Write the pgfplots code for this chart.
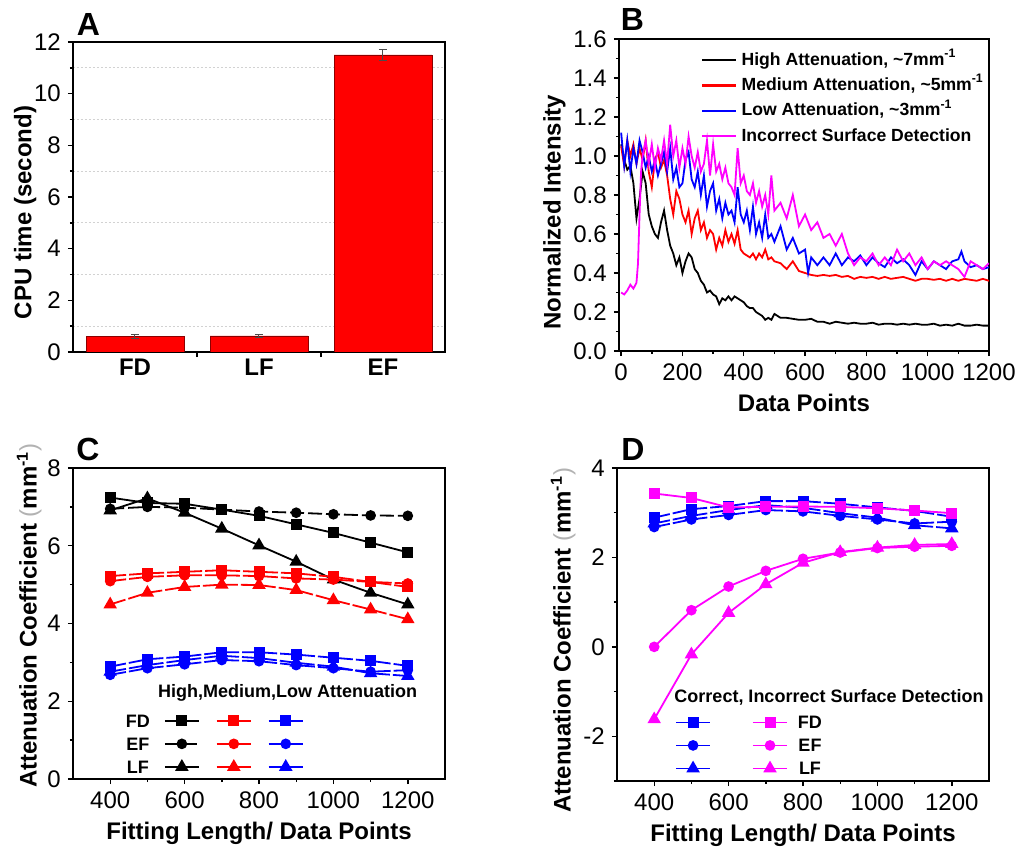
\documentclass[border=0pt]{standalone}
\usepackage{fontspec}
\setmainfont{Liberation Sans}
\usepackage{pgfplots}
\usepackage{pgfplotstable}
\pgfplotsset{compat=1.18}

% panel C: high (b), medium (r), low (l) attenuation
\pgfplotstableread{
x    bFD  bEF  bLF  rFD  rEF  rLF  lFD  lEF  lLF
400  7.24 6.95 6.91 5.22 5.09 4.49 2.89 2.68 2.76
500  7.10 7.00 7.22 5.29 5.20 4.79 3.08 2.85 2.93
600  7.08 6.98 6.85 5.33 5.24 4.94 3.15 2.95 3.06
700  6.93 6.93 6.44 5.37 5.24 5.00 3.26 3.06 3.17
800  6.77 6.88 6.01 5.33 5.22 4.99 3.26 3.03 3.11
900  6.55 6.85 5.59 5.29 5.16 4.86 3.20 2.93 2.99
1000 6.33 6.81 5.13 5.20 5.13 4.60 3.12 2.85 2.89
1100 6.08 6.78 4.79 5.07 5.07 4.36 3.04 2.76 2.72
1200 5.83 6.77 4.49 4.94 5.03 4.11 2.91 2.80 2.65
}\tabC

% panel D: incorrect surface detection
\pgfplotstableread{
x    mFD  mEF  mLF
400  3.43 0.00 -1.62
500  3.33 0.82 -0.17
600  3.12 1.35 0.76
700  3.13 1.70 1.40
800  3.14 1.97 1.88
900  3.13 2.11 2.12
1000 3.10 2.21 2.22
1100 3.05 2.24 2.28
1200 2.99 2.26 2.30
}\tabD

\definecolor{mred}{RGB}{255,0,0}
\definecolor{mblue}{RGB}{0,0,255}
\definecolor{mmag}{RGB}{255,0,255}

\pgfplotsset{
  panel/.style={
    scale only axis,
    axis line style={line width=0.8pt},
    tick align=outside,
    tick pos=left,
    major tick length=2.6pt,
    minor tick length=1.6pt,
    every tick/.style={line width=0.7pt, black},
    tick label style={font=\fontsize{12}{14}\selectfont},
    label style={font=\bfseries\fontsize{12}{14}\selectfont},
    /pgf/number format/assume math mode=true,
    /pgf/number format/set thousands separator={},
  },
  lw/.style={line width=0.9pt},
  sFD/.style={lw, mark=square*, mark size=2.3pt, mark options={solid}},
  sEF/.style={lw, mark=*, mark size=2.2pt, mark options={solid}},
  sLF/.style={lw, mark=triangle*, mark size=3pt, mark options={solid}},
  dsh/.style={dash pattern=on 8pt off 1.5pt},
  bdsh/.style={dash pattern=on 7pt off 2pt},
}

\begin{document}
\begin{tikzpicture}
\useasboundingbox (0,0) rectangle (509.5pt,426pt);

% ---------------- A ----------------
\begin{axis}[panel,
  at={(36.5pt,250pt)}, anchor=south west,
  width=186pt, height=155pt,
  xmin=-0.5, xmax=2.5, ymin=0, ymax=12,
  xtick={0.5,1.5}, xticklabels={},
  extra x ticks={0,1,2},
  extra x tick labels={FD,LF,EF},
  extra x tick style={major tick length=0pt,
    tick label style={font=\bfseries\fontsize{12}{14}\selectfont}},
  ytick={0,2,...,12}, minor ytick={1,3,...,11},
  yminorgrids, minor grid style={gray!35, dash pattern=on 1pt off 1pt},
  ylabel={CPU time (second)},
  ylabel style={at={(ticklabel cs:0.45)}},
  ylabel shift=-8pt,
]
\addplot[ybar, bar width=0.79, fill=mred, draw=red!55!black, line width=0.4pt,
  error bars/.cd, y dir=both, y explicit,
  error bar style={line width=0.5pt, gray!60!black},
  error mark options={rotate=90, mark size=2pt, gray!60!black}]
  coordinates {(0,0.60) +- (0,0.08) (1,0.62) +- (0,0.05) (2,11.50) +- (0,0.20)};
\end{axis}
\node[font=\bfseries\fontsize{16}{18}\selectfont] at (44.25pt,414pt) {A};

% ---------------- B ----------------
\begin{axis}[panel,
  at={(309.5pt,250.5pt)}, anchor=south west,
  width=185pt, height=156pt,
  xmin=-7, xmax=1200, ymin=0, ymax=1.6,
  xtick={0,200,...,1200}, minor x tick num=1,
  ytick={0,0.2,0.4,0.6,0.8,1.0,1.2,1.4,1.6}, minor y tick num=1,
  yticklabel style={/pgf/number format/.cd, fixed, fixed zerofill, precision=1},
  xlabel={Data Points},
  ylabel={Normalized Intensity},
  ylabel style={at={(ticklabel cs:0.445)}},
  ylabel shift=-3pt,
  legend cell align=left,
  legend image post style={line width=1.1pt},
  legend style={draw=none, fill=none, at={(0.205,0.975)}, anchor=north west,
    font=\bfseries\fontsize{8.8}{10}\selectfont, row sep=3.7pt,
    nodes={inner sep=0pt, text height=7pt, text depth=2pt},
    /tikz/every odd column/.append style={column sep=2pt}},
]
\addplot[black, lw] table {
0 1.06
10 0.98
20 0.93
30 0.95
40 0.86
50 0.68
60 0.78
70 0.92
80 0.86
90 0.70
100 0.64
110 0.60
120 0.58
130 0.66
140 0.72
150 0.62
160 0.54
170 0.50
180 0.44
190 0.48
200 0.40
210 0.46
220 0.50
230 0.48
240 0.42
250 0.40
260 0.36
270 0.34
280 0.30
290 0.31
300 0.29
310 0.28
320 0.24
330 0.27
340 0.26
350 0.28
360 0.26
370 0.28
380 0.27
390 0.26
400 0.25
410 0.23
420 0.22
430 0.22
440 0.20
450 0.19
460 0.18
470 0.16
480 0.17
490 0.16
500 0.19
520 0.17
540 0.17
560 0.165
580 0.16
600 0.16
620 0.165
640 0.15
660 0.15
680 0.14
700 0.15
720 0.145
740 0.14
760 0.145
780 0.14
800 0.14
820 0.145
840 0.135
860 0.14
880 0.14
900 0.135
920 0.14
940 0.135
960 0.14
980 0.135
1000 0.135
1020 0.14
1040 0.13
1060 0.135
1080 0.13
1100 0.14
1120 0.13
1140 0.13
1160 0.135
1180 0.13
1200 0.13
};
\addlegendentry{High Attenuation, \textasciitilde7mm\textsuperscript{-1}}
\addplot[mred, lw] table {
0 1.05
10 0.95
20 1.08
30 1.00
40 1.06
50 0.96
60 1.04
70 0.98
80 1.08
90 0.92
100 0.84
110 0.98
120 1.02
130 0.94
140 0.98
150 0.90
160 0.78
170 0.70
180 0.82
190 0.78
200 0.70
210 0.66
220 0.72
230 0.60
240 0.68
250 0.72
260 0.62
270 0.66
280 0.58
290 0.62
300 0.60
310 0.52
320 0.58
330 0.54
340 0.62
350 0.56
360 0.60
370 0.55
380 0.62
390 0.52
400 0.50
410 0.49
420 0.48
430 0.50
440 0.47
450 0.50
460 0.48
470 0.52
480 0.47
490 0.48
500 0.46
520 0.45
540 0.42
560 0.46
580 0.41
600 0.40
620 0.39
640 0.385
660 0.39
680 0.385
700 0.39
720 0.38
740 0.385
760 0.37
780 0.38
800 0.375
820 0.38
840 0.37
860 0.38
880 0.37
900 0.375
920 0.38
940 0.37
960 0.36
980 0.37
1000 0.37
1020 0.365
1040 0.37
1060 0.36
1080 0.37
1100 0.36
1120 0.37
1140 0.365
1160 0.36
1180 0.37
1200 0.36
};
\addlegendentry{Medium Attenuation, \textasciitilde5mm\textsuperscript{-1}}
\addplot[mblue, lw] table {
0 1.12
10 0.95
20 1.08
30 0.92
40 1.04
50 0.96
60 1.08
70 1.02
80 0.94
90 1.00
100 0.92
110 0.98
120 0.90
130 0.96
140 1.02
150 0.92
160 1.04
170 0.88
180 0.94
190 0.84
200 0.86
210 0.98
220 1.02
230 0.88
240 0.84
250 0.92
260 0.80
270 0.90
280 0.74
290 0.82
300 0.86
310 0.72
320 0.78
330 0.68
340 0.76
350 0.70
360 0.72
370 0.66
380 0.84
390 0.70
400 0.66
410 0.72
420 0.62
430 0.74
440 0.60
450 0.66
460 0.58
470 0.70
480 0.58
490 0.60
500 0.56
520 0.64
540 0.52
560 0.58
580 0.50
600 0.52
610 0.40
620 0.48
640 0.44
660 0.48
680 0.44
700 0.50
720 0.44
740 0.48
760 0.46
780 0.49
800 0.44
820 0.48
840 0.45
860 0.43
880 0.48
900 0.45
920 0.47
940 0.44
960 0.39
980 0.46
1000 0.42
1020 0.46
1040 0.44
1060 0.42
1080 0.46
1100 0.47
1110 0.51
1120 0.46
1140 0.43
1160 0.44
1180 0.42
1200 0.43
};
\addlegendentry{Low Attenuation, \textasciitilde3mm\textsuperscript{-1}}
\addplot[mmag, lw] table {
0 0.30
10 0.29
20 0.31
30 0.34
40 0.32
50 0.35
55 0.45
60 0.70
65 0.92
70 1.00
80 1.08
90 0.96
100 1.06
110 0.94
120 1.04
130 0.98
140 1.08
150 0.96
160 1.16
170 1.00
180 1.08
190 0.94
200 1.04
210 0.96
220 1.10
230 1.00
240 0.94
250 1.02
260 0.92
270 0.96
280 1.08
290 0.90
300 1.06
310 0.92
320 0.96
330 0.88
340 0.94
350 0.86
360 0.84
370 0.80
380 1.04
390 0.86
400 0.90
410 0.82
420 0.80
430 0.86
440 0.76
450 0.82
460 0.74
470 0.80
480 0.70
490 0.90
500 0.72
520 0.76
540 0.68
560 0.80
580 0.64
600 0.70
620 0.62
640 0.66
660 0.58
680 0.60
700 0.54
720 0.60
740 0.50
760 0.44
780 0.48
800 0.46
820 0.50
840 0.44
860 0.48
880 0.44
900 0.52
920 0.46
940 0.50
960 0.44
980 0.48
1000 0.42
1020 0.46
1040 0.44
1060 0.46
1080 0.44
1100 0.42
1120 0.38
1140 0.46
1160 0.44
1180 0.42
1200 0.45
};
\addlegendentry{Incorrect Surface Detection}
\end{axis}
\node[font=\bfseries\fontsize{16}{18}\selectfont] at (316.25pt,416pt) {B};

% ---------------- C ----------------
\begin{axis}[panel,
  at={(36.5pt,36.5pt)}, anchor=south west,
  width=186pt, height=155.5pt,
  xmin=300, xmax=1300, ymin=0, ymax=8,
  xtick={400,600,...,1200}, minor x tick num=1,
  ytick={0,2,...,8}, minor y tick num=1,
  xlabel={Fitting Length/ Data Points},
  ylabel={Attenuation Coefficient {\color{gray!60}\mdseries(}mm\textsuperscript{-1}{\color{gray!60}\mdseries)}},
  ylabel style={at={(ticklabel cs:0.526)}},
  ylabel shift=-4pt,
  legend columns=4,
  legend style={draw=none, fill=none, at={(0.125,0.222)}, anchor=north west,
    font=\bfseries\fontsize{9}{10}\selectfont, row sep=5pt,
    nodes={inner sep=0pt, text height=6.5pt, text depth=0pt},
    /tikz/every even column/.append style={column sep=7pt}},
]
\addplot[black, sFD, forget plot] table[x=x, y=bFD] {\tabC};
\addplot[black, sEF, bdsh, forget plot] table[x=x, y=bEF] {\tabC};
\addplot[black, sLF, forget plot] table[x=x, y=bLF] {\tabC};
\addplot[mred, sFD, dsh, forget plot] table[x=x, y=rFD] {\tabC};
\addplot[mred, sEF, dsh, forget plot] table[x=x, y=rEF] {\tabC};
\addplot[mred, sLF, dsh, forget plot] table[x=x, y=rLF] {\tabC};
\addplot[mblue, sFD, dsh, forget plot] table[x=x, y=lFD] {\tabC};
\addplot[mblue, sEF, dsh, forget plot] table[x=x, y=lEF] {\tabC};
\addplot[mblue, sLF, dsh, forget plot] table[x=x, y=lLF] {\tabC};
\addlegendimage{empty legend}\addlegendentry{FD}
\addlegendimage{black, sFD}\addlegendentry{}
\addlegendimage{mred, sFD, dsh}\addlegendentry{\hspace{10.5pt}}
\addlegendimage{mblue, sFD, dsh}\addlegendentry{}
\addlegendimage{empty legend}\addlegendentry{EF}
\addlegendimage{black, sEF, bdsh}\addlegendentry{}
\addlegendimage{mred, sEF, dsh}\addlegendentry{\hspace{10.5pt}}
\addlegendimage{mblue, sEF, dsh}\addlegendentry{}
\addlegendimage{empty legend}\addlegendentry{LF}
\addlegendimage{black, sLF}\addlegendentry{}
\addlegendimage{mred, sLF, dsh}\addlegendentry{\hspace{10.5pt}}
\addlegendimage{mblue, sLF, dsh}\addlegendentry{}
\node[font=\bfseries\fontsize{9}{10}\selectfont] at (rel axis cs:0.577,0.277) {High,Medium,Low Attenuation};
\end{axis}
\node[font=\bfseries\fontsize{16}{18}\selectfont] at (44pt,201.5pt) {C};

% ---------------- D ----------------
\begin{axis}[panel,
  at={(308.5pt,35.5pt)}, anchor=south west,
  width=186pt, height=156.5pt,
  xmin=300, xmax=1300, ymin=-3, ymax=4,
  xtick={400,600,...,1200}, minor x tick num=1,
  ytick={-2,0,2,4}, minor ytick={-3,-1,1,3},
  xlabel={Fitting Length/ Data Points},
  ylabel={Attenuation Coefficient {\color{gray!60}\mdseries(}mm\textsuperscript{-1}{\color{gray!60}\mdseries)}},
  ylabel style={at={(ticklabel cs:0.45)}},
  ylabel shift=-3pt,
  legend columns=2,
  legend style={draw=none, fill=none, at={(0.139,0.222)}, anchor=north west,
    font=\bfseries\fontsize{9}{10}\selectfont, row sep=5pt,
    nodes={inner sep=0pt, text height=6.5pt, text depth=0pt},
    /tikz/every odd column/.append style={column sep=5pt},
    /tikz/every even column/.append style={column sep=14.5pt}},
]
\addplot[mblue, sFD, dsh, forget plot] table[x=x, y=lFD] {\tabC};
\addplot[mblue, sEF, dsh, forget plot] table[x=x, y=lEF] {\tabC};
\addplot[mblue, sLF, dsh, forget plot] table[x=x, y=lLF] {\tabC};
\addplot[mmag, sFD, forget plot] table[x=x, y=mFD] {\tabD};
\addplot[mmag, sEF, forget plot] table[x=x, y=mEF] {\tabD};
\addplot[mmag, sLF, forget plot] table[x=x, y=mLF] {\tabD};
\addlegendimage{mblue, sFD, dsh}\addlegendentry{}
\addlegendimage{mmag, sFD}\addlegendentry{FD}
\addlegendimage{mblue, sEF, dsh}\addlegendentry{}
\addlegendimage{mmag, sEF}\addlegendentry{EF}
\addlegendimage{mblue, sLF, dsh}\addlegendentry{}
\addlegendimage{mmag, sLF}\addlegendentry{LF}
\node[font=\bfseries\fontsize{9}{10}\selectfont] at (rel axis cs:0.570,0.268) {Correct, Incorrect Surface Detection};
\end{axis}
\node[font=\bfseries\fontsize{16}{18}\selectfont] at (316.5pt,201.5pt) {D};

\end{tikzpicture}
\end{document}
